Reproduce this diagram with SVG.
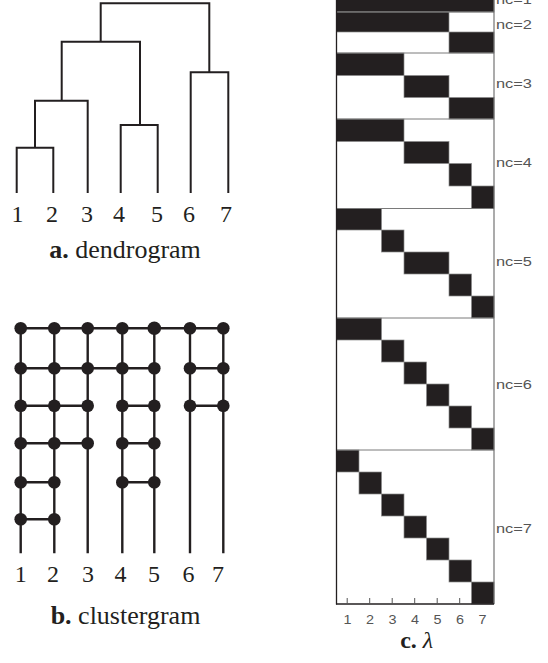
<svg xmlns="http://www.w3.org/2000/svg" width="548" height="663" viewBox="0 0 548 663">
<style>
.bg{fill:#ffffff}
.dl{fill:none;stroke:#231f20;stroke-width:2;stroke-linejoin:miter}
.cl{fill:none;stroke:#231f20;stroke-width:2.4}
.dot{fill:#231f20}
.serif{font-family:"Liberation Serif","Times New Roman",serif;fill:#231f20}
.num{font-size:24px;text-anchor:middle}
.cap{font-size:26px;text-anchor:middle}
.cell{fill:#231f20;stroke:#8a8a8a;stroke-width:0.7}
.sep{stroke:#7a7a7a;stroke-width:1}
.sans{font-family:"Liberation Sans",Arial,sans-serif;fill:#555555}
.nc{font-size:12.5px}
.ax{font-size:12.5px;text-anchor:middle}
.tick{stroke:#555555;stroke-width:1}
</style>
<rect class="bg" x="0" y="0" width="548" height="663"/>

<!-- a. dendrogram -->
<g id="dendrogram">
  <g id="dendrogram-connectors">
    <path class="dl" d="M16.7 193 V147.7 H53.3 V193"/>
    <path class="dl" d="M35 147.7 V100.7 H87.7 V193"/>
    <path class="dl" d="M120.7 193 V125 H157.7 V193"/>
    <path class="dl" d="M61.7 100.7 V41.7 H140 V125"/>
    <path class="dl" d="M190.7 193 V72.3 H228.3 V193"/>
    <path class="dl" d="M100.7 41.7 V3.3 H209.3 V72.3"/>
  </g>
  <g id="dendrogram-leaves" class="serif num">
    <text x="17.5" y="222">1</text>
    <text x="52" y="222">2</text>
    <text x="87" y="222">3</text>
    <text x="119" y="222">4</text>
    <text x="157" y="222">5</text>
    <text x="189" y="222">6</text>
    <text x="226" y="222">7</text>
  </g>
  <text id="caption-a" class="serif cap" x="125" y="258"><tspan font-weight="bold">a.</tspan> dendrogram</text>
</g>

<!-- b. clustergram -->
<g id="clustergram">
  <g id="clustergram-connectors">
    <path class="cl" d="M20.7 328.3 V553.3 M54.3 328.3 V553.3 M87.7 328.3 V553.3 M122.3 328.3 V553.3 M154.3 328.3 V553.3 M190 328.3 V553.3 M223.3 328.3 V553.3"/>
    <path class="cl" d="M20.7 328.3 H223.3"/>
    <path class="cl" d="M20.7 368.3 H154.3 M190 368.3 H223.3"/>
    <path class="cl" d="M20.7 405.7 H87.7 M122.3 405.7 H154.3 M190 405.7 H223.3"/>
    <path class="cl" d="M20.7 443.3 H87.7 M122.3 443.3 H154.3"/>
    <path class="cl" d="M20.7 482.3 H54.3 M122.3 482.3 H154.3"/>
    <path class="cl" d="M20.7 519.3 H54.3"/>
  </g>
  <g id="clustergram-nodes" class="dot">
    <g id="row-1">
      <circle cx="20.7" cy="328.3" r="6.3"/><circle cx="54.3" cy="328.3" r="6.3"/><circle cx="87.7" cy="328.3" r="6.3"/><circle cx="122.3" cy="328.3" r="6.3"/><circle cx="154.3" cy="328.3" r="6.8"/><circle cx="190" cy="328.3" r="6.3"/><circle cx="223.3" cy="328.3" r="6.3"/>
    </g>
    <g id="row-2">
      <circle cx="20.7" cy="368.3" r="6.3"/><circle cx="54.3" cy="368.3" r="6.3"/><circle cx="87.7" cy="368.3" r="6.3"/><circle cx="122.3" cy="368.3" r="6.3"/><circle cx="154.3" cy="368.3" r="6.3"/><circle cx="190" cy="368.3" r="6.3"/><circle cx="223.3" cy="368.3" r="6.3"/>
    </g>
    <g id="row-3">
      <circle cx="20.7" cy="405.7" r="6.3"/><circle cx="54.3" cy="405.7" r="6.3"/><circle cx="87.7" cy="405.7" r="6.3"/><circle cx="122.3" cy="405.7" r="6.3"/><circle cx="154.3" cy="405.7" r="6.3"/><circle cx="190" cy="405.7" r="6.3"/><circle cx="223.3" cy="405.7" r="6.3"/>
    </g>
    <g id="row-4">
      <circle cx="20.7" cy="443.3" r="6.3"/><circle cx="54.3" cy="443.3" r="6.3"/><circle cx="87.7" cy="443.3" r="6.3"/><circle cx="122.3" cy="443.3" r="6.3"/><circle cx="154.3" cy="443.3" r="6.3"/>
    </g>
    <g id="row-5">
      <circle cx="20.7" cy="482.3" r="6.3"/><circle cx="54.3" cy="482.3" r="6.3"/><circle cx="122.3" cy="482.3" r="6.3"/><circle cx="154.3" cy="482.3" r="6.3"/>
    </g>
    <g id="row-6">
      <circle cx="20.7" cy="519.3" r="6.3"/><circle cx="54.3" cy="519.3" r="6.3"/>
    </g>
  </g>
  <g id="clustergram-leaves" class="serif num">
    <text x="20.7" y="581.5">1</text>
    <text x="53" y="581.5">2</text>
    <text x="88" y="581.5">3</text>
    <text x="120.5" y="581.5">4</text>
    <text x="154" y="581.5">5</text>
    <text x="188.5" y="581.5">6</text>
    <text x="218" y="581.5">7</text>
  </g>
  <text id="caption-b" class="serif cap" x="125.5" y="624"><tspan font-weight="bold">b.</tspan> clustergram</text>
</g>

<!-- c. lambda matrix -->
<g id="lambda">
  <g id="nc1">
    <rect class="cell" x="336.5" y="-10" width="157.5" height="22"/>
  </g>
  <g id="nc2">
    <rect class="cell" x="336.5" y="12" width="112.5" height="20"/>
    <rect class="cell" x="449" y="32" width="45" height="21"/>
  </g>
  <g id="nc3">
    <rect class="cell" x="336.5" y="53" width="67.5" height="22.5"/>
    <rect class="cell" x="404" y="75.5" width="45" height="22"/>
    <rect class="cell" x="449" y="97.5" width="45" height="21.5"/>
  </g>
  <g id="nc4">
    <rect class="cell" x="336.5" y="119" width="67.5" height="22.5"/>
    <rect class="cell" x="404" y="141.5" width="45" height="22"/>
    <rect class="cell" x="449" y="163.5" width="22.5" height="22.5"/>
    <rect class="cell" x="471.5" y="186" width="22.5" height="22.5"/>
  </g>
  <g id="nc5">
    <rect class="cell" x="336.5" y="208.5" width="45" height="21.5"/>
    <rect class="cell" x="381.5" y="230" width="22.5" height="22"/>
    <rect class="cell" x="404" y="252" width="45" height="22"/>
    <rect class="cell" x="449" y="274" width="22.5" height="22"/>
    <rect class="cell" x="471.5" y="296" width="22.5" height="22"/>
  </g>
  <g id="nc6">
    <rect class="cell" x="336.5" y="318" width="45" height="22"/>
    <rect class="cell" x="381.5" y="340" width="22.5" height="22"/>
    <rect class="cell" x="404" y="362" width="22.5" height="22"/>
    <rect class="cell" x="426.5" y="384" width="22.5" height="22"/>
    <rect class="cell" x="449" y="406" width="22.5" height="22"/>
    <rect class="cell" x="471.5" y="428" width="22.5" height="22"/>
  </g>
  <g id="nc7">
    <rect class="cell" x="336.5" y="450" width="22.5" height="22"/>
    <rect class="cell" x="359" y="472" width="22.5" height="22"/>
    <rect class="cell" x="381.5" y="494" width="22.5" height="22"/>
    <rect class="cell" x="404" y="516" width="22.5" height="22"/>
    <rect class="cell" x="426.5" y="538" width="22.5" height="22"/>
    <rect class="cell" x="449" y="560" width="22.5" height="22"/>
    <rect class="cell" x="471.5" y="582" width="22.5" height="22"/>
  </g>
  <g id="frame">
    <line class="sep" x1="336.5" y1="12" x2="494" y2="12"/>
    <line class="sep" x1="336.5" y1="53" x2="494" y2="53"/>
    <line class="sep" x1="336.5" y1="119" x2="494" y2="119"/>
    <line class="sep" x1="336.5" y1="208.5" x2="494" y2="208.5"/>
    <line class="sep" x1="336.5" y1="318" x2="494" y2="318"/>
    <line class="sep" x1="336.5" y1="450" x2="494" y2="450"/>
    <line x1="336.5" y1="0" x2="336.5" y2="604.5" stroke="#231f20" stroke-width="1.3"/>
    <line x1="494" y1="0" x2="494" y2="604" stroke="#666666" stroke-width="1.1"/>
    <line x1="336" y1="604" x2="494" y2="604" stroke="#231f20" stroke-width="1.3"/>
    <path class="tick" d="M347.2 598 V604 M369.7 598 V604 M392.2 598 V604 M414.7 598 V604 M437.2 598 V604 M459.7 598 V604"/>
  </g>
  <g id="nc-labels" class="sans nc">
    <text x="496" y="3.5" textLength="36" lengthAdjust="spacingAndGlyphs">nc=1</text>
    <text x="496" y="29.3" textLength="36" lengthAdjust="spacingAndGlyphs">nc=2</text>
    <text x="496" y="88.3" textLength="36" lengthAdjust="spacingAndGlyphs">nc=3</text>
    <text x="496" y="166.7" textLength="36" lengthAdjust="spacingAndGlyphs">nc=4</text>
    <text x="496" y="265.7" textLength="36" lengthAdjust="spacingAndGlyphs">nc=5</text>
    <text x="496" y="389" textLength="36" lengthAdjust="spacingAndGlyphs">nc=6</text>
    <text x="496" y="532.7" textLength="36" lengthAdjust="spacingAndGlyphs">nc=7</text>
  </g>
  <g id="axis-labels" class="sans ax">
    <text x="347.5" y="623.5" textLength="8" lengthAdjust="spacingAndGlyphs">1</text>
    <text x="370" y="623.5" textLength="8" lengthAdjust="spacingAndGlyphs">2</text>
    <text x="392.5" y="623.5" textLength="8" lengthAdjust="spacingAndGlyphs">3</text>
    <text x="415" y="623.5" textLength="8" lengthAdjust="spacingAndGlyphs">4</text>
    <text x="437.5" y="623.5" textLength="8" lengthAdjust="spacingAndGlyphs">5</text>
    <text x="460" y="623.5" textLength="8" lengthAdjust="spacingAndGlyphs">6</text>
    <text x="482.5" y="623.5" textLength="8" lengthAdjust="spacingAndGlyphs">7</text>
  </g>
  <text id="caption-c" class="serif" x="416.7" y="648" font-size="24" text-anchor="middle"><tspan font-weight="bold">c.</tspan> <tspan font-style="italic">λ</tspan></text>
</g>
</svg>
